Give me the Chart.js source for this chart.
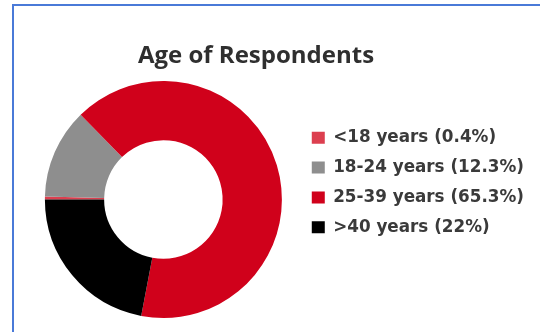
<!DOCTYPE html>
<html>
<head>
<meta charset="utf-8">
<script src="https://cdn.jsdelivr.net/npm/chart.js@4"></script>
<style>
  html, body { margin: 0; padding: 0; background: #fff; }
  body { width: 540px; height: 332px; position: relative; overflow: hidden; }
  #frame { position: absolute; left: 12px; top: 4px; width: 600px; height: 400px;
           border-top: 2px solid #4a7ad8; border-left: 2px solid #4a7ad8; pointer-events: none; }
  #title { position: absolute; left: 0; top: 39px; width: 512px; text-align: center;
           font-family: 'Open Sans', sans-serif; font-weight: 700; font-size: 24px; color: #2f2f2f; line-height: 30px; }
  #ageChart { position: absolute; left: 0; top: 0; }
</style>
</head>
<body>
<canvas id="ageChart" width="540" height="332"></canvas>
<div id="frame"></div>
<div id="title">Age of Respondents</div>
<script>
document.addEventListener("DOMContentLoaded", function() {
    // Age groups and their share of respondents (%)
    var ageLabels = ['<18 years', '18-24 years', '25-39 years', '>40 years'];
    var ageShares = [0.4, 12.3, 65.3, 22];
    var ageColors = ['#dc3f4f', '#8e8e8e', '#d0011b', '#000000'];

    var ctx = document.getElementById('ageChart').getContext('2d');
    var ageChart = new Chart(ctx, {
        type: 'doughnut',
        data: {
            labels: ageLabels,
            datasets: [{
                data: ageShares,
                backgroundColor: ageColors,
                borderWidth: 0,
                hoverOffset: 0
            }]
        },
        options: {
            responsive: false,
            animation: false,
            rotation: 270,
            cutout: '50%',
            layout: {
                padding: { left: 28, right: 6, top: 81, bottom: 14 }
            },
            plugins: {
                tooltip: { enabled: false },
                legend: {
                    position: 'right',
                    align: 'start',
                    // empty title only pushes the items down
                    title: {
                        display: true,
                        text: '',
                        font: { size: 12 },
                        padding: { top: 21, bottom: 0 }
                    },
                    labels: {
                        boxWidth: 13,
                        boxHeight: 12,
                        padding: 13,
                        color: '#3a3a3a',
                        font: { family: 'DejaVu Sans', weight: 'bold', size: 16.8 },
                        generateLabels: function(chart) {
                            var items = Chart.overrides.doughnut.plugins.legend.labels.generateLabels(chart);
                            items.forEach(function(item, i) {
                                item.text = ageLabels[i] + ' (' + ageShares[i] + '%)';
                                item.lineWidth = 0;
                            });
                            return items;
                        }
                    }
                }
            }
        }
    });
});
</script>
</body>
</html>
